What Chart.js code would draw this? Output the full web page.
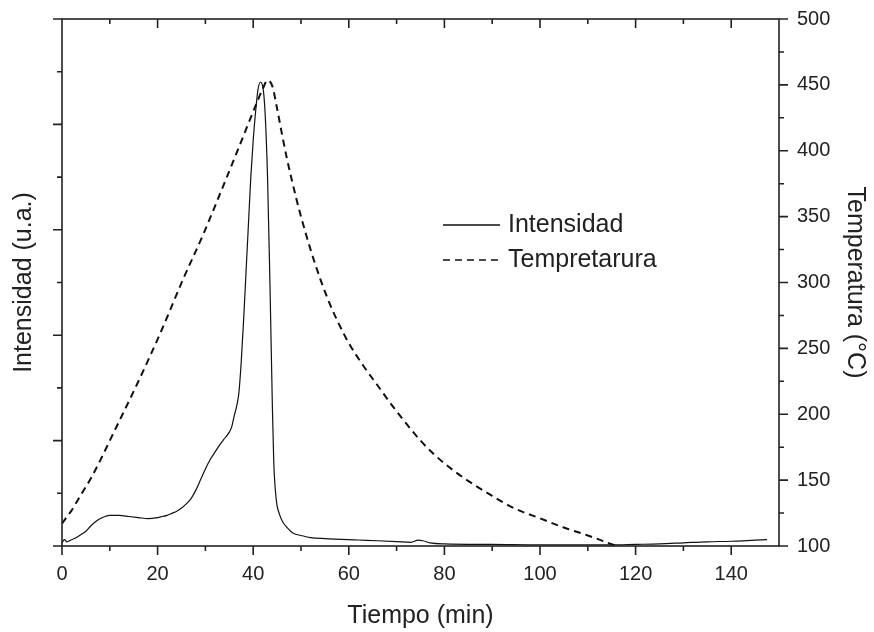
<!DOCTYPE html>
<html>
<head>
<meta charset="utf-8">
<script src="https://cdn.jsdelivr.net/npm/chart.js@4.4.1/dist/chart.umd.min.js"></script>
<style>
    html, body { margin: 0; padding: 0; background: #fff; }
    #wrap { width: 874px; height: 632px; }
</style>
</head>
<body>
<div id="wrap"><canvas id="tprChart" width="874" height="632"></canvas></div>
<script>
// Intensidad (u.a.) vs tiempo (min)
const timeIntensity = [0, 0.5, 1, 2, 3, 4, 5, 6, 7, 8, 9, 10, 11, 12, 14, 16, 18, 20, 21, 22, 23, 24, 25, 26, 27, 28, 29, 30,
    31, 32, 33, 34, 35, 35.5, 36, 36.5, 37, 37.5, 38, 38.5, 39, 39.5, 40, 40.5, 41, 41.5, 42, 42.5, 43, 43.5, 44, 44.3,
    44.8, 45.5, 46.3, 47, 48.4, 50, 52, 55, 62, 66, 70, 73, 74.5, 75.5, 77, 80, 90, 100, 110, 115, 120, 125, 130, 135, 140, 145, 147.5];
const intensity = [0.03, 0.06, 0.04, 0.06, 0.08, 0.11, 0.14, 0.19, 0.23, 0.26, 0.28, 0.29, 0.29, 0.29, 0.28, 0.27, 0.26, 0.27, 0.28, 0.29, 0.31, 0.33, 0.36, 0.40, 0.45, 0.53, 0.63, 0.73,
    0.82, 0.89, 0.96, 1.02, 1.08, 1.13, 1.23, 1.32, 1.45, 1.75, 2.15, 2.6, 3.05, 3.5, 3.85, 4.12, 4.33, 4.40, 4.36, 4.1, 3.5, 2.5, 1.35, 0.8,
    0.45, 0.3, 0.22, 0.18, 0.12, 0.1, 0.08, 0.07, 0.057, 0.05, 0.042, 0.035, 0.055, 0.05, 0.03, 0.02, 0.015, 0.01, 0.01, 0.01, 0.015, 0.02, 0.03, 0.04, 0.045, 0.055, 0.06];

// Temperatura (°C) vs tiempo (min)
const timeTemp = [0, 1, 2, 3, 4, 5, 6, 8, 10, 12, 15.6, 20.5, 25.4, 29.6, 33.7, 37.6, 40.7, 42, 43, 44, 45, 46, 47, 48, 49, 50,
    52, 54, 56, 58, 60, 63, 66, 69, 72, 75, 78, 82, 86, 90, 95, 100, 105, 110, 116];
const temperature = [117, 122, 127, 133, 139, 145, 151, 165, 180, 195, 222, 261, 303, 337, 373, 408, 436, 447, 453.5, 449, 432, 413, 395, 379, 364, 350,
    325, 303, 284, 268, 254, 237, 222, 207, 193, 180, 169, 157, 147, 138, 128, 121, 114, 108, 100];

const FONT = '"Liberation Sans", Arial, sans-serif';
const INK = '#222';

function toPoints(xs, ys) {
    return xs.map((x, i) => ({ x: x, y: ys[i] }));
}

// frame around the plot plus major/minor tick marks (top ticks point inward)
const frameAndTicks = {
    id: 'frameAndTicks',
    afterDatasetsDraw(chart) {
        const { ctx, chartArea: a, scales } = chart;
        ctx.save();
        ctx.strokeStyle = INK;
        ctx.lineWidth = 1.6;
        ctx.strokeRect(a.left, a.top, a.right - a.left, a.bottom - a.top);
        ctx.beginPath();
        scales.x.ticks.forEach(t => {
            if (t.value <= 0 || t.value >= 150) return;
            const px = scales.x.getPixelForValue(t.value);
            const len = t.value % 20 === 0 ? 9 : 5;
            ctx.moveTo(px, a.bottom); ctx.lineTo(px, a.bottom + len);
            ctx.moveTo(px, a.top); ctx.lineTo(px, a.top + len);
        });
        ctx.moveTo(a.left, a.bottom); ctx.lineTo(a.left, a.bottom + 9);
        scales.y.ticks.forEach(t => {
            const py = scales.y.getPixelForValue(t.value);
            const len = Math.abs(t.value % 1) < 1e-6 ? 9 : 5;
            ctx.moveTo(a.left - len, py); ctx.lineTo(a.left, py);
        });
        scales.y1.ticks.forEach(t => {
            const py = scales.y1.getPixelForValue(t.value);
            const len = t.value % 50 === 0 ? 9 : 5;
            ctx.moveTo(a.right, py); ctx.lineTo(a.right + len, py);
        });
        ctx.stroke();
        ctx.restore();
    }
};

// legend placed inside the plot area
const insideLegend = {
    id: 'insideLegend',
    afterDatasetsDraw(chart, args, opts) {
        const { ctx } = chart;
        chart.data.datasets.forEach((ds, i) => {
            const y = opts.y + i * opts.rowGap;
            ctx.save();
            ctx.strokeStyle = ds.borderColor;
            ctx.lineWidth = 1.3;
            ctx.setLineDash(ds.borderDash || []);
            ctx.beginPath();
            ctx.moveTo(opts.x, y);
            ctx.lineTo(opts.x + opts.lineLen, y);
            ctx.stroke();
            ctx.setLineDash([]);
            ctx.fillStyle = INK;
            ctx.font = '25px ' + FONT;
            ctx.textBaseline = 'middle';
            ctx.fillText(ds.label, opts.x + opts.lineLen + 8, y);
            ctx.restore();
        });
    }
};

function fixVertical(width) {
    return s => {
        s.width = width;
        s.paddingTop = 0;
        s.paddingBottom = 0;
    };
}

document.addEventListener('DOMContentLoaded', function() {
    const ctx = document.getElementById('tprChart').getContext('2d');

    new Chart(ctx, {
        type: 'line',
        data: {
            datasets: [
                {
                    label: 'Intensidad',
                    data: toPoints(timeIntensity, intensity),
                    yAxisID: 'y',
                    borderColor: '#111',
                    borderWidth: 1.2,
                    cubicInterpolationMode: 'monotone',
                    fill: false,
                    pointRadius: 0
                },
                {
                    label: 'Tempretarura',
                    data: toPoints(timeTemp, temperature),
                    yAxisID: 'y1',
                    borderColor: '#111',
                    borderWidth: 2,
                    borderDash: [7, 5],
                    cubicInterpolationMode: 'monotone',
                    fill: false,
                    pointRadius: 0
                }
            ]
        },
        options: {
            responsive: false,
            animation: false,
            devicePixelRatio: 1,
            layout: { padding: { top: 19, left: 0, right: 0, bottom: 0 } },
            plugins: {
                legend: { display: false },
                tooltip: { enabled: false },
                insideLegend: { x: 443, y: 225, rowGap: 35, lineLen: 57 }
            },
            scales: {
                x: {
                    type: 'linear',
                    position: 'bottom',
                    min: 0,
                    max: 150,
                    grid: { display: false, drawTicks: false },
                    border: { display: false },
                    ticks: {
                        stepSize: 10,
                        autoSkip: false,
                        maxRotation: 0,
                        padding: 16,
                        color: INK,
                        font: { family: FONT, size: 20 },
                        callback: v => (v % 20 === 0 && v <= 140 ? v : '')
                    },
                    title: {
                        display: true,
                        text: 'Tiempo (min)',
                        color: INK,
                        font: { family: FONT, size: 25 },
                        padding: { top: 0, bottom: 1 }
                    },
                    afterFit: s => { s.height = 86; s.paddingLeft = 0; s.paddingRight = 0; }
                },
                y: {
                    position: 'left',
                    min: 0,
                    max: 5,
                    grid: { display: false, drawTicks: false },
                    border: { display: false },
                    ticks: { stepSize: 0.5, display: false },
                    title: {
                        display: true,
                        text: 'Intensidad (u.a.)',
                        color: INK,
                        font: { family: FONT, size: 25 },
                        padding: { top: 9, bottom: 0 }
                    },
                    afterFit: fixVertical(62)
                },
                y1: {
                    position: 'right',
                    min: 100,
                    max: 500,
                    grid: { display: false, drawTicks: false },
                    border: { display: false },
                    ticks: {
                        stepSize: 25,
                        autoSkip: false,
                        padding: 18,
                        color: INK,
                        font: { family: FONT, size: 20 },
                        callback: v => (v % 50 === 0 ? v : '')
                    },
                    title: {
                        display: true,
                        text: 'Temperatura (°C)',
                        color: INK,
                        font: { family: FONT, size: 25 },
                        padding: { top: 4, bottom: 0 }
                    },
                    afterFit: fixVertical(95)
                }
            }
        },
        plugins: [frameAndTicks, insideLegend]
    });
});
</script>
</body>
</html>
